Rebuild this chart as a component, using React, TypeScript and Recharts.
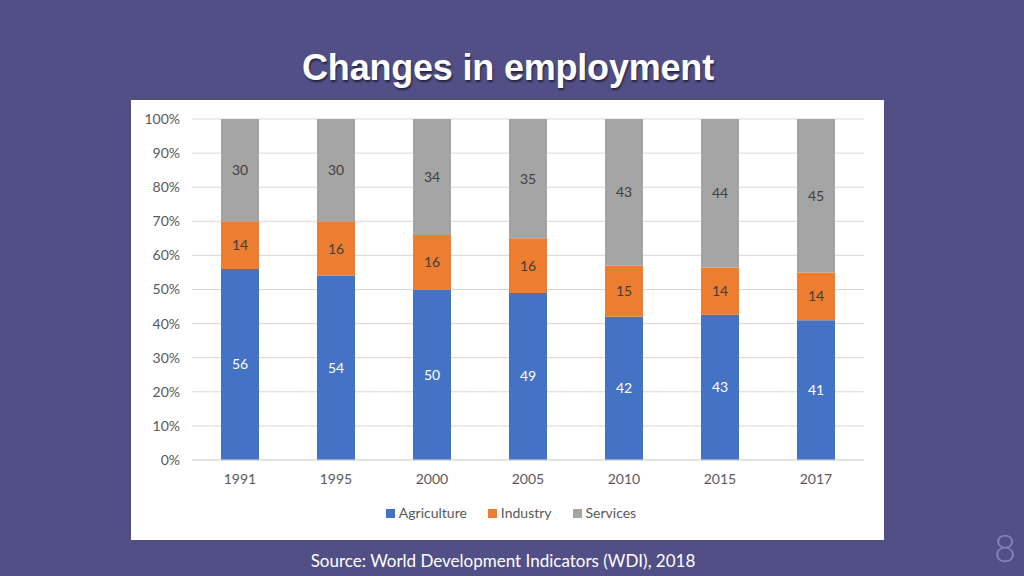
import React from 'react';
import { BarChart, Bar, XAxis, YAxis, CartesianGrid, Legend, LabelList } from 'recharts';

const years = ['1991', '1995', '2000', '2005', '2010', '2015', '2017'];
const agriculture = [56, 54, 50, 49, 42, 43, 41];
const industry = [14, 16, 16, 16, 15, 14, 14];
const services = [30, 30, 34, 35, 43, 44, 45];
const yTicks = [0, 0.1, 0.2, 0.3, 0.4, 0.5, 0.6, 0.7, 0.8, 0.9, 1];

const data = years.map((year, i) => ({
  year,
  Agriculture: agriculture[i],
  Industry: industry[i],
  Services: services[i],
}));

const font = 'Lato, "Open Sans", sans-serif';

export default function App() {
  return (
    <div
      style={{
        position: 'absolute',
        left: 0,
        top: 0,
        width: 1024,
        height: 576,
        background: '#524F87',
        overflow: 'hidden',
        fontFamily: font,
      }}
    >
      <div
        style={{
          position: 'absolute',
          top: 47,
          width: 1016,
          textAlign: 'center',
          color: '#fff',
          fontFamily: '"Liberation Sans", Arial, sans-serif',
          fontWeight: 'bold',
          fontSize: 36,
          letterSpacing: -0.2,
          textShadow: '1px 2px 2px rgba(0,0,0,0.55)',
        }}
      >
        Changes in employment
      </div>

      <div
        style={{
          position: 'absolute',
          left: 131,
          top: 100,
          width: 753,
          height: 440,
          background: '#fff',
        }}
      >
        <BarChart
          width={753}
          height={440}
          data={data}
          stackOffset="expand"
          barCategoryGap={29}
          margin={{ top: 19, right: 20, left: 0, bottom: 19 }}
        >
          <CartesianGrid vertical={false} stroke="#D9D9D9" />
          <XAxis
            dataKey="year"
            tickLine={false}
            axisLine={{ stroke: '#D9D9D9' }}
            tick={{ fill: '#595959', fontSize: 14, fontFamily: font }}
            tickMargin={8}
            height={32}
          />
          <YAxis
            width={61}
            domain={[0, 1]}
            ticks={yTicks}
            tickFormatter={(v: number) => `${Math.round(v * 100)}%`}
            tickLine={false}
            axisLine={false}
            tick={{ fill: '#595959', fontSize: 14, fontFamily: font }}
            tickMargin={6}
          />
          <Legend
            verticalAlign="bottom"
            iconType="square"
            iconSize={9}
            formatter={(value: string) => (
              <span style={{ color: '#595959', fontSize: 14, fontFamily: font, marginRight: 11 }}>{value}</span>
            )}
            wrapperStyle={{ paddingTop: 10, paddingLeft: 24 }}
          />
          <Bar dataKey="Agriculture" stackId="a" fill="#4472C4" isAnimationActive={false}>
            <LabelList dataKey="Agriculture" position="center" fill="#fff" fontSize={14} fontFamily={font} />
          </Bar>
          <Bar dataKey="Industry" stackId="a" fill="#ED7D31" isAnimationActive={false}>
            <LabelList dataKey="Industry" position="center" fill="#404040" fontSize={14} fontFamily={font} />
          </Bar>
          <Bar dataKey="Services" stackId="a" fill="#A5A5A5" isAnimationActive={false}>
            <LabelList dataKey="Services" position="center" fill="#404040" fontSize={14} fontFamily={font} />
          </Bar>
        </BarChart>
      </div>

      <div
        style={{
          position: 'absolute',
          top: 550,
          width: 1006,
          textAlign: 'center',
          color: '#fff',
          fontSize: 17,
          fontFamily: font,
        }}
      >
        Source: World Development Indicators (WDI), 2018
      </div>

      <div
        style={{
          position: 'absolute',
          left: 994,
          top: 524,
          color: '#8683BE',
          fontSize: 38,
          fontWeight: 300,
          fontFamily: font,
        }}
      >
        8
      </div>
    </div>
  );
}
